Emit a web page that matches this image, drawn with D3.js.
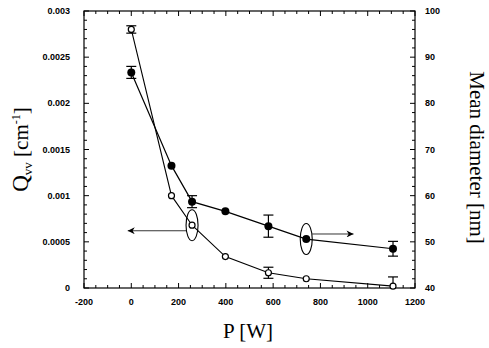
<!DOCTYPE html>
<html>
<head>
<meta charset="utf-8">
<script src="https://cdn.jsdelivr.net/npm/d3@7"></script>
<style>
  body { margin: 0; background: #fff; }
  svg { display: block; }
  .tick-label { font-family: "Liberation Sans", Arial, sans-serif; font-weight: bold; font-size: 9px; }
  .axis-title { font-family: "Liberation Serif", "Times New Roman", serif; font-size: 21px; }
</style>
</head>
<body>
<div id="chart"></div>
<script>
// power values (x)
var powerQ = [0, 170, 257, 398, 580, 740, 1107];
var qvv = [0.0028, 0.001, 0.00068, 0.00034, 0.000165, 0.0001, 0.00002];
var qvvErr = [0.00004, 0, 0, 0, 0.00006, 0, 0.0001];

var powerD = [0, 170, 257, 398, 580, 740, 1107];
var diam = [86.7, 66.5, 58.7, 56.6, 53.4, 50.6, 48.5];
var diamErr = [1.3, 0, 1.3, 0, 2.4, 0, 1.6];

var xTicks = [-200, 0, 200, 400, 600, 800, 1000, 1200];
var qTicks = [0, 0.0005, 0.001, 0.0015, 0.002, 0.0025, 0.003];
var qTickLabels = ["0", "0.0005", "0.001", "0.0015", "0.002", "0.0025", "0.003"];
var dTicks = [40, 50, 60, 70, 80, 90, 100];

// annotations: ellipse centre (x, y on its own axis) and arrow end
var markQ = {x: 257, y: 0.00068, arrowY: 0.00062, arrowTo: -15};
var markD = {x: 740, y: 50.6, arrowY: 51.7, arrowTo: 940};

var width = 489, height = 348;
var margin = {left: 84, right: 74, top: 11, bottom: 60};
var plotW = width - margin.left - margin.right;
var plotH = height - margin.top - margin.bottom;

var svg = d3.select("#chart").append("svg")
  .attr("width", width)
  .attr("height", height);

var x = d3.scaleLinear().domain([-200, 1200]).range([margin.left, margin.left + plotW]);
var yQ = d3.scaleLinear().domain([0, 0.003]).range([margin.top + plotH, margin.top]);
var yD = d3.scaleLinear().domain([40, 100]).range([margin.top + plotH, margin.top]);

var x0 = margin.left, x1 = margin.left + plotW, y0 = margin.top + plotH, y1 = margin.top;

// frame
svg.append("rect")
  .attr("x", x0).attr("y", y1)
  .attr("width", plotW).attr("height", plotH)
  .attr("fill", "none").attr("stroke", "#000").attr("stroke-width", 1.2);

// inward ticks (drawn by hand so they point inside the frame)
var tickG = svg.append("g").attr("stroke", "#000").attr("stroke-width", 1);
d3.range(-200, 1201, 50).forEach(function(v) {
  var len = (v % 200 === 0) ? 5 : 3;
  tickG.append("line").attr("x1", x(v)).attr("x2", x(v)).attr("y1", y0).attr("y2", y0 - len);
  tickG.append("line").attr("x1", x(v)).attr("x2", x(v)).attr("y1", y1).attr("y2", y1 + len);
});
d3.range(0, 31).forEach(function(i) {
  var v = i * 0.0001;
  var len = (i % 5 === 0) ? 5 : 3;
  tickG.append("line").attr("x1", x0).attr("x2", x0 + len).attr("y1", yQ(v)).attr("y2", yQ(v));
});
d3.range(40, 101, 2).forEach(function(v) {
  var len = (v % 10 === 0) ? 5 : 3;
  tickG.append("line").attr("x1", x1).attr("x2", x1 - len).attr("y1", yD(v)).attr("y2", yD(v));
});

// tick labels
svg.selectAll(".xlab").data(xTicks).enter().append("text")
  .attr("class", "tick-label")
  .attr("x", function(d) { return x(d); })
  .attr("y", y0 + 17)
  .attr("text-anchor", "middle")
  .text(function(d) { return d; });

svg.selectAll(".qlab").data(qTicks).enter().append("text")
  .attr("class", "tick-label")
  .attr("x", x0 - 14)
  .attr("y", function(d) { return yQ(d) + 3; })
  .attr("text-anchor", "end")
  .text(function(d, i) { return qTickLabels[i]; });

svg.selectAll(".dlab").data(dTicks).enter().append("text")
  .attr("class", "tick-label")
  .attr("x", x1 + 10)
  .attr("y", function(d) { return yD(d) + 3; })
  .attr("text-anchor", "start")
  .text(function(d) { return d; });

// axis titles
var qTitle = svg.append("text").attr("class", "axis-title")
  .attr("transform", "translate(28," + (margin.top + plotH / 2) + ") rotate(-90)")
  .attr("text-anchor", "middle");
qTitle.append("tspan").attr("font-size", "23px").text("Q");
qTitle.append("tspan").attr("font-size", "13px").attr("dy", 4).text("vv");
qTitle.append("tspan").attr("dy", -4).text(" [cm");
qTitle.append("tspan").attr("font-size", "12px").attr("dy", -8).text("-1");
qTitle.append("tspan").attr("dy", 8).text("]");

svg.append("text").attr("class", "axis-title")
  .attr("transform", "translate(470," + (margin.top + plotH / 2 + 8) + ") rotate(90)")
  .attr("text-anchor", "middle")
  .attr("font-size", "20px")
  .text("Mean diameter [nm]");

svg.append("text").attr("class", "axis-title")
  .attr("x", 248).attr("y", 338)
  .attr("text-anchor", "middle")
  .text("P [W]");

// series lines
var lineQ = d3.line().x(function(d) { return x(d[0]); }).y(function(d) { return yQ(d[1]); });
var lineD = d3.line().x(function(d) { return x(d[0]); }).y(function(d) { return yD(d[1]); });

svg.append("path").datum(d3.zip(powerQ, qvv))
  .attr("d", lineQ).attr("fill", "none").attr("stroke", "#000").attr("stroke-width", 1.1);
svg.append("path").datum(d3.zip(powerD, diam))
  .attr("d", lineD).attr("fill", "none").attr("stroke", "#000").attr("stroke-width", 1.2);

// error bars
function errorBars(xs, ys, errs, scale) {
  xs.forEach(function(xv, i) {
    if (!errs[i]) return;
    var lo = Math.max(scale.domain()[0], ys[i] - errs[i]);
    var hi = ys[i] + errs[i];
    var g = svg.append("g").attr("stroke", "#000").attr("stroke-width", 1.2);
    g.append("line").attr("x1", x(xv)).attr("x2", x(xv)).attr("y1", scale(lo)).attr("y2", scale(hi));
    g.append("line").attr("x1", x(xv) - 5).attr("x2", x(xv) + 5).attr("y1", scale(hi)).attr("y2", scale(hi));
    if (lo > scale.domain()[0]) {
      g.append("line").attr("x1", x(xv) - 5).attr("x2", x(xv) + 5).attr("y1", scale(lo)).attr("y2", scale(lo));
    }
  });
}
errorBars(powerQ, qvv, qvvErr, yQ);
errorBars(powerD, diam, diamErr, yD);

// markers
svg.selectAll(".openPt").data(d3.zip(powerQ, qvv)).enter().append("circle")
  .attr("cx", function(d) { return x(d[0]); })
  .attr("cy", function(d) { return yQ(d[1]); })
  .attr("r", 3)
  .attr("fill", "#fff").attr("stroke", "#000").attr("stroke-width", 1.2);

svg.selectAll(".fillPt").data(d3.zip(powerD, diam)).enter().append("circle")
  .attr("cx", function(d) { return x(d[0]); })
  .attr("cy", function(d) { return yD(d[1]); })
  .attr("r", 4)
  .attr("fill", "#000");

// annotation ellipses and arrows
var defs = svg.append("defs");
defs.append("marker").attr("id", "arrow")
  .attr("viewBox", "0 0 10 10").attr("refX", 10).attr("refY", 5)
  .attr("markerWidth", 12).attr("markerHeight", 7)
  .attr("markerUnits", "userSpaceOnUse")
  .attr("orient", "auto")
  .append("path").attr("d", "M0,0 L10,5 L0,10 L3,5 Z").attr("fill", "#000");

function annotate(m, scale, dir) {
  var cx = x(m.x), cy = scale(m.y);
  var rx = 6, ry = 15.5;
  svg.append("ellipse").attr("cx", cx).attr("cy", cy).attr("rx", rx).attr("ry", ry)
    .attr("fill", "none").attr("stroke", "#000").attr("stroke-width", 1.1);
  svg.append("line")
    .attr("x1", cx + dir * rx).attr("y1", scale(m.arrowY))
    .attr("x2", x(m.arrowTo)).attr("y2", scale(m.arrowY))
    .attr("stroke", "#000").attr("stroke-width", 0.8)
    .attr("marker-end", "url(#arrow)");
}
annotate(markQ, yQ, -1);
annotate(markD, yD, 1);
</script>
</body>
</html>
